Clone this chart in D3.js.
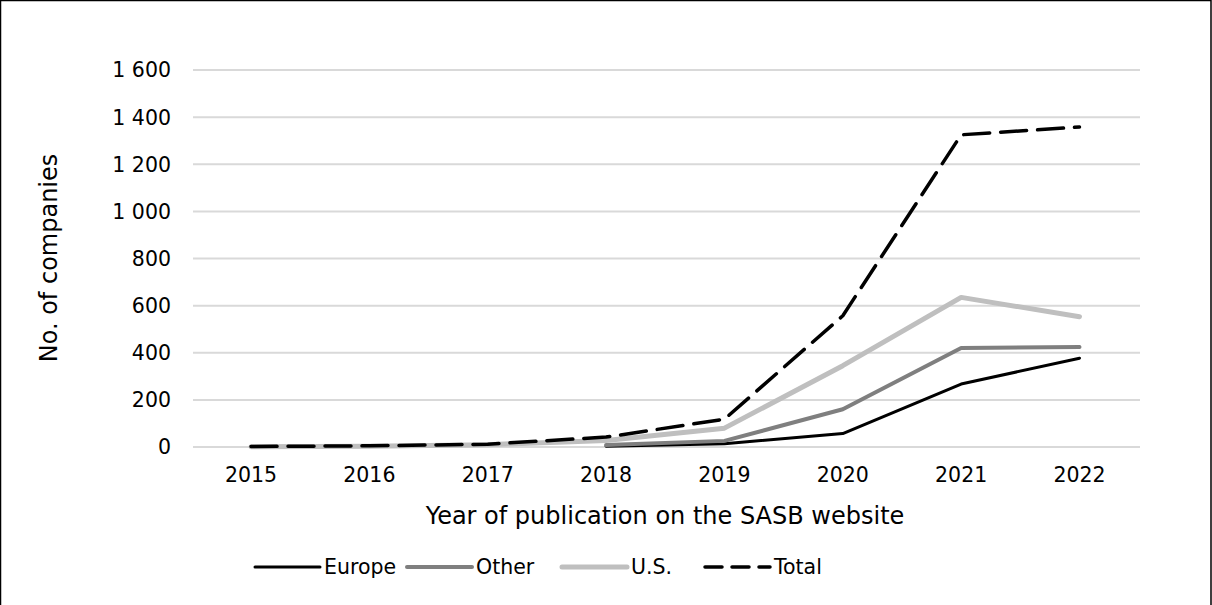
<!DOCTYPE html>
<html lang="en">
<head>
<meta charset="UTF-8">
<title>SASB companies by region</title>
<style>
html,body{margin:0; width:100vw; height:100vh; overflow:hidden; background:#fff; font-family:"DejaVu Sans", Verdana, sans-serif;}
svg{width:100%; height:100%; display:block;}
</style>
</head>
<body>
<svg></svg>
<script src="https://d3js.org/d3.v7.min.js"></script>
<script>
const years = ["2015","2016","2017","2018","2019","2020","2021","2022"];
const europe = [null, null, null, 3, 14, 57, 267, 377];
const other  = [null, null, null, 8, 26, 160, 420, 424];
const us     = [1, 3, 10, 28, 80, 345, 635, 553];
const total  = [2, 5, 12, 42, 118, 557, 1325, 1358];
const yTicks = [0, 200, 400, 600, 800, 1000, 1200, 1400, 1600];

const series = [
  {name:"Europe", values:europe, color:"#000", width:3, dash:null},
  {name:"Other",  values:other,  color:"#7f7f7f", width:4, dash:null},
  {name:"U.S.",   values:us,     color:"#bfbfbf", width:5, dash:null},
  {name:"Total",  values:total,  color:"#000", width:3.5, dash:"26,11"}
];

const svg = d3.select("svg");
const W = 1212, H = 605;

// frame (bottom edge falls outside the picture)
svg.append("path").attr("d",`M0.5,${H+2}V0.5H${W-1}V${H+2}`)
  .attr("fill","none").attr("stroke","#000").attr("stroke-width",1.5);

const x = d3.scalePoint().domain(years).range([251, 1079.5]);
const y = d3.scaleLinear().domain([0,1600]).range([447, 70]);
const fmt = v => v >= 1000 ? d3.format(",")(v).replace(",", "\u00a0") : String(v);

// gridlines
svg.append("g").selectAll("line").data(yTicks).join("line")
  .attr("x1",193).attr("x2",1140)
  .attr("y1",d=>y(d)).attr("y2",d=>y(d))
  .attr("stroke","#d9d9d9").attr("stroke-width",2);

// y axis labels
svg.append("g").selectAll("text").data(yTicks).join("text")
  .attr("x",171).attr("y",d=>y(d)).attr("dy","0.36em")
  .attr("text-anchor","end").style("font-size","20.5px").attr("fill","#000")
  .text(fmt);

// x axis labels
svg.append("g").selectAll("text").data(years).join("text")
  .attr("x",d=>x(d)).attr("y",475).attr("dy","0.36em")
  .attr("text-anchor","middle").style("font-size","20.5px").attr("fill","#000")
  .text(d=>d);

svg.append("text").attr("x",665).attr("y",515).attr("dy","0.36em")
  .attr("text-anchor","middle").style("font-size","24px").text("Year of publication on the SASB website");

svg.append("text").attr("transform","translate(48,258) rotate(-90)").attr("dy","0.36em")
  .attr("text-anchor","middle").style("font-size","24px").text("No. of companies");

// lines
const line = d3.line().defined(d=>d[1]!==null).x(d=>x(d[0])).y(d=>y(d[1]));
svg.append("g").selectAll("path").data(series).join("path")
  .attr("fill","none")
  .attr("stroke",d=>d.color).attr("stroke-width",d=>d.width)
  .attr("stroke-dasharray",d=>d.dash)
  .attr("stroke-linejoin","round").attr("stroke-linecap","round")
  .attr("d",d=>line(years.map((yr,i)=>[yr,d.values[i]])));

// legend
const legendX = [255, 407, 562, 705];
const lg = svg.append("g").selectAll("g").data(series).join("g")
  .attr("transform",(d,i)=>`translate(${legendX[i]},567)`);
lg.append("line").attr("x1",0).attr("x2",65).attr("y1",0).attr("y2",0)
  .attr("stroke",d=>d.color).attr("stroke-width",d=>d.width)
  .attr("stroke-dasharray",d=>d.dash ? "17,10" : null).attr("stroke-linecap","round");
lg.append("text").attr("x",69).attr("dy","0.36em").style("font-size","20.5px").text(d=>d.name);
</script>
</body>
</html>
